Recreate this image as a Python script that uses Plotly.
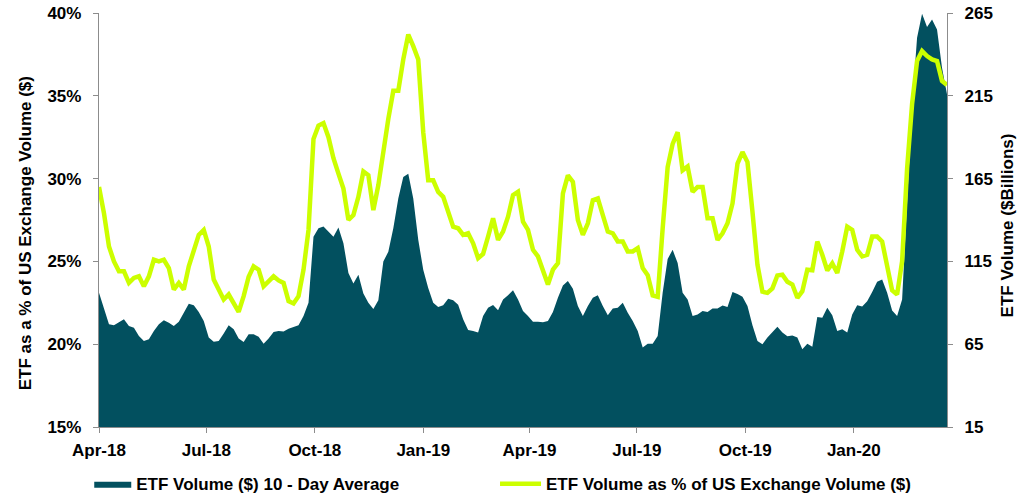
import pandas as pd
import plotly.graph_objects as go

# Sampling grid: evenly spaced observation dates from Apr 2018 to Mar 20, 2020
DATES = pd.date_range("2018-04-01", "2020-03-20", periods=171)

# ETF Volume ($) 10-Day Average, $ Billions (right axis)
ETF_VOLUME_BN = [
    96, 87, 77, 76.5, 78, 80, 76, 75, 70, 67,
    68, 73, 77, 79.5, 78, 76, 78.5, 84.5, 89.5, 88.5,
    84.5, 79, 69, 66.5, 67, 71.5, 76.4, 74, 68.4, 66.3,
    71, 71, 69.5, 65.3, 68.4, 72.4, 73, 72.7, 74.4, 75.4,
    76.4, 82, 90, 129.9, 135, 136, 133, 129.9, 135.5, 126,
    108, 101.7, 107, 95.6, 90, 86.2, 91.6, 115, 120.8, 135,
    153, 166, 168, 153, 128, 110, 99, 90, 87.5, 88.5,
    92.5, 91.6, 88.8, 80, 73.5, 73, 72, 82, 87, 88.6,
    85.5, 92, 94.5, 97.6, 92, 85, 82, 78.5, 78.5, 78.3,
    79, 84.5, 93, 100.5, 103.2, 98.5, 88, 82, 88, 93,
    94.6, 88, 82.5, 86.5, 87, 90, 84, 79, 73, 63,
    65.3, 65.3, 70, 96, 116.5, 122, 114, 96, 92, 82,
    83, 85, 84.5, 86.5, 86.5, 88.3, 87.5, 96.5, 95.3, 93.6,
    88, 76.5, 67, 65, 69, 72, 75.5, 72, 69.8, 70.2,
    69, 62, 65.3, 63.5, 81.5, 81, 87, 82.5, 73, 74,
    72, 83, 88.5, 87.7, 91, 96.5, 102.7, 104, 96, 85.3,
    82, 92, 148, 209, 250, 264.5, 256.5, 261, 255, 232,
    216,
]

# ETF Volume as % of US Exchange Volume ($) (left axis)
ETF_SHARE_PCT = [
    29.5, 27.9, 25.9, 25.0, 24.4, 24.4, 23.7, 24.0, 24.1, 23.5,
    24.1, 25.1, 25.0, 25.1, 24.6, 23.3, 23.7, 23.3, 24.7, 25.7,
    26.6, 26.9, 25.9, 23.9, 23.3, 22.7, 23.0, 22.4, 21.95, 22.9,
    24.07, 24.7, 24.5, 23.5, 23.8, 24.1, 23.85, 23.7, 22.6, 22.46,
    22.9, 24.5, 26.9, 32.4, 33.2, 33.35, 32.5, 31.23, 30.3, 29.4,
    27.5, 27.8, 28.9, 30.43, 30.2, 28.1, 29.6, 31.7, 33.6, 35.3,
    35.3, 37.2, 38.7, 38.0, 37.2, 32.8, 29.9, 29.9, 29.2, 28.9,
    27.9, 27.1, 27.0, 26.6, 26.7, 26.09, 25.2, 25.45, 26.49, 27.6,
    26.3, 26.8, 27.7, 29.0, 29.2, 27.4, 26.9, 25.7, 25.3, 24.5,
    23.6, 24.5, 24.9, 29.1, 30.2, 29.8, 27.5, 26.6, 27.3, 28.7,
    28.8, 27.8, 26.8, 26.7, 26.2, 26.2, 25.6, 25.6, 25.8, 24.6,
    24.17, 22.95, 22.86, 27.0, 30.7, 32.1, 32.8, 30.5, 30.73, 29.2,
    29.5, 29.5, 27.6, 27.6, 26.3, 26.7, 27.3, 28.5, 30.9, 31.6,
    31.0, 28.0, 24.8, 23.17, 23.1, 23.37, 24.15, 24.2, 23.77, 23.6,
    22.8, 23.2, 24.5, 24.47, 26.2, 25.4, 24.45, 24.88, 24.3, 25.6,
    27.1, 26.9, 25.7, 25.3, 25.4, 26.5, 26.5, 26.2, 24.8, 23.25,
    23.0, 25.0, 30.6, 34.5, 37.1, 37.7, 37.4, 37.2, 37.1, 35.9,
    35.65,
]

PCT_TICKS = [15, 20, 25, 30, 35, 40]
BN_TICKS = [15, 65, 115, 165, 215, 265]

TEAL = "#02505F"
LIME = "#CCFF00"
AXIS = "#8C8C8C"
FONT = "Liberation Sans, Arial, sans-serif"

fig = go.Figure()

fig.add_trace(go.Scatter(
    x=DATES, y=ETF_VOLUME_BN, name="ETF Volume ($) 10 - Day Average",
    mode="lines", line=dict(width=0, color=TEAL), fill="tozeroy",
    fillcolor=TEAL, yaxis="y", legend="legend", showlegend=True,
))
fig.add_trace(go.Scatter(
    x=DATES, y=ETF_SHARE_PCT, name="ETF Volume as % of US Exchange Volume ($)",
    mode="lines", line=dict(width=4.5, color=LIME), yaxis="y2",
    legend="legend2", showlegend=True,
))

tickfont = dict(family=FONT, size=17, color="#000000", weight="bold")

fig.update_layout(
    width=1032, height=497,
    margin=dict(l=99, r=85, t=13, b=70, autoexpand=False),
    showlegend=True,
    paper_bgcolor="white", plot_bgcolor="white",
    font=dict(family=FONT, size=17, color="#000000"),
    xaxis=dict(
        type="date", range=["2018-04-01", "2020-03-20"],
        tick0="2018-04-01", dtick="M3", tickformat="%b-%y",
        ticks="outside", ticklen=5, tickcolor=AXIS,
        showline=True, linecolor=AXIS, linewidth=1.3,
        showgrid=False, zeroline=False, tickfont=tickfont,
        ticklabelstandoff=2, automargin=False, ticklabeloverflow="allow",
    ),
    yaxis=dict(
        range=[15, 265], tickvals=BN_TICKS, side="right",
        ticks="outside", ticklen=5, tickcolor=AXIS,
        showline=True, linecolor=AXIS, linewidth=1.3,
        showgrid=False, zeroline=False, tickfont=tickfont,
        ticklabelstandoff=8, automargin=False, ticklabeloverflow="allow",
    ),
    yaxis2=dict(
        range=[15, 40], tickvals=PCT_TICKS,
        ticktext=[f"{v}%" for v in PCT_TICKS],
        overlaying="y", side="left",
        ticks="outside", ticklen=5, tickcolor=AXIS,
        showline=True, linecolor=AXIS, linewidth=1.3,
        showgrid=False, zeroline=False, tickfont=tickfont,
        ticklabelstandoff=8, automargin=False, ticklabeloverflow="allow",
    ),
    legend=dict(
        x=-0.0115, y=-0.138, xanchor="left", yanchor="middle",
        orientation="h", font=dict(family=FONT, size=17, weight="bold"),
        itemwidth=37, bgcolor="rgba(0,0,0,0)",
    ),
    legend2=dict(
        x=0.467, y=-0.138, xanchor="left", yanchor="middle",
        orientation="h", font=dict(family=FONT, size=17, weight="bold"),
        itemwidth=41, bgcolor="rgba(0,0,0,0)",
    ),
    annotations=[
        dict(text="<b>ETF as a % of US Exchange Volume ($)</b>",
             xref="paper", yref="paper", x=-0.0872, y=0.468,
             textangle=-90, showarrow=False, font=dict(size=17),
             xanchor="center", yanchor="middle"),
        dict(text="<b>ETF Volume ($Billions)</b>",
             xref="paper", yref="paper", x=1.0715, y=0.486,
             textangle=-90, showarrow=False, font=dict(size=17),
             xanchor="center", yanchor="middle"),
    ],
)

fig.write_html(
    "out.html",
    config={"displayModeBar": False},
    post_script="document.body.style.margin='0';document.body.style.overflow='hidden';",
)
